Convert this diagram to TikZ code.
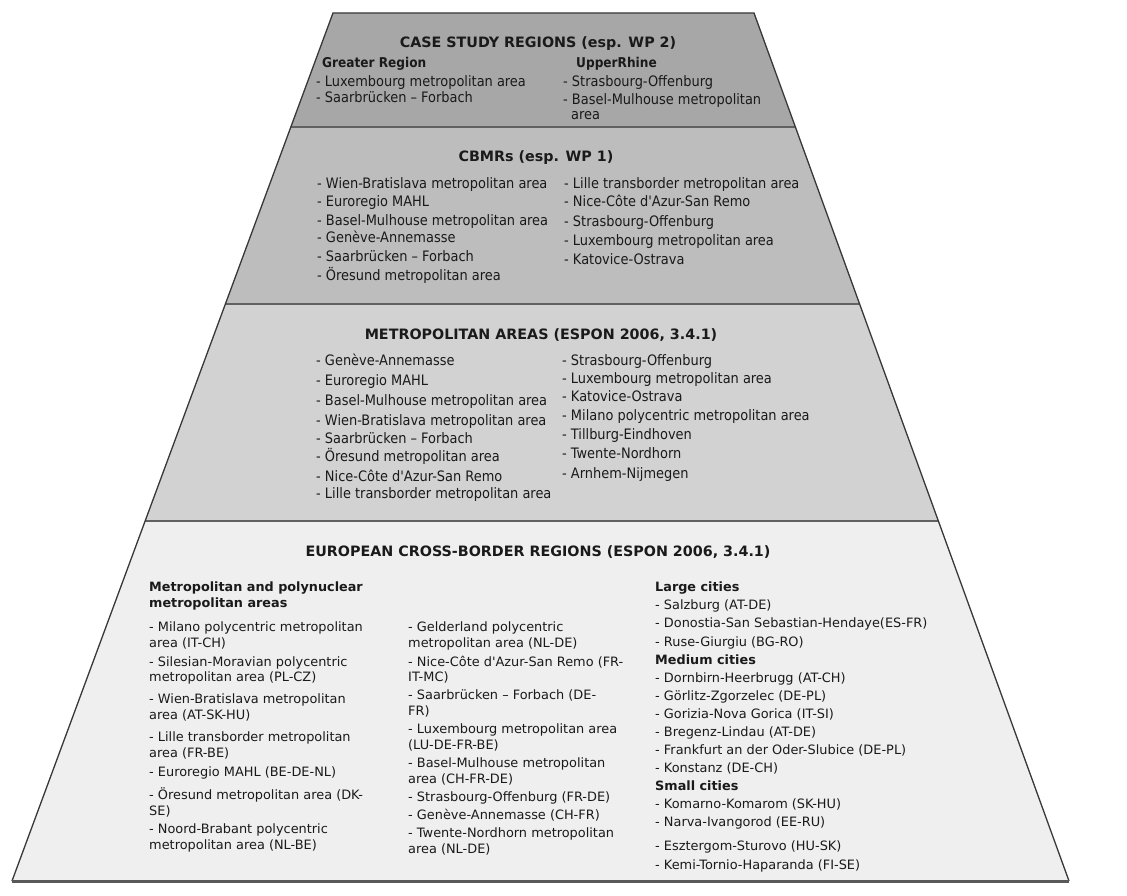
\documentclass[tikz,border=0pt]{standalone}
\usepackage{fontspec}
\setmainfont{DejaVu Sans}
\newfontfamily\condfont{DejaVu Sans Condensed}
\definecolor{bandA}{HTML}{A7A7A7}
\definecolor{bandB}{HTML}{BDBDBD}
\definecolor{bandC}{HTML}{D2D2D2}
\definecolor{bandD}{HTML}{EFEFEF}
\definecolor{ink}{HTML}{1A1A1A}
\newcommand\apos{\textquotesingle}
\begin{document}
\begin{tikzpicture}[x=1pt,y=-1pt,
  titlef/.style={anchor=base, inner sep=0pt, font=\bfseries\fontsize{14.3}{16}\selectfont, text=ink},
  upitem/.style={anchor=base west, inner sep=0pt, font=\condfont\fontsize{14.4}{16}\selectfont, text=ink},
  uphead/.style={anchor=base west, inner sep=0pt, font=\condfont\bfseries\fontsize{13.5}{16}\selectfont, text=ink},
  lowitem/.style={anchor=base west, inner sep=0pt, font=\fontsize{12.9}{16}\selectfont, text=ink},
  lowhead/.style={anchor=base west, inner sep=0pt, font=\bfseries\fontsize{12.8}{16}\selectfont, text=ink},
  sepline/.style={draw=black!62, line width=2.3pt},
  outline/.style={draw=black!78, line width=1.3pt, line join=miter},
  baseline/.style={draw=black!65, line width=3pt}
]
\useasboundingbox (0,0) rectangle (1127,896);
\fill[white] (0,0) rectangle (1127,896);
% bands
\fill[bandA] (333,13) -- (754,13) -- (795.4,127) -- (290.8,127) -- cycle;
\fill[bandB] (290.8,127) -- (795.4,127) -- (859.6,304) -- (225.4,304) -- cycle;
\fill[bandC] (225.4,304) -- (859.6,304) -- (938.4,521) -- (145.1,521) -- cycle;
\fill[bandD] (145.1,521) -- (938.4,521) -- (1069,881) -- (12,881) -- cycle;
\draw[sepline] (290.8,127) -- (795.4,127);
\draw[sepline] (225.4,304) -- (859.6,304);
\draw[sepline] (145.1,521) -- (938.4,521);
\draw[outline] (12,881) -- (333,13) -- (754,13) -- (1069,881);
\draw[baseline] (12,881) -- (1069,881);

% band 1
\node[titlef] (t1) at (538,48) {CASE STUDY REGIONS (esp. WP 2)};
\node[uphead] (h1a) at (322,67.5) {Greater Region};
\node[uphead] (h1b) at (576,67.5) {UpperRhine};
\node[upitem] (a1) at (316,87) {- Luxembourg metropolitan area};
\node[upitem] (a2) at (316,103) {- Saarbrücken – Forbach};
\node[upitem] (b1) at (563,87) {- Strasbourg-Offenburg};
\node[upitem] (b2) at (563,104.5) {- Basel-Mulhouse metropolitan};
\node[upitem] (b3) at (571,119.5) {area};

% band 2
\node[titlef] (t2) at (536,162) {CBMRs (esp. WP 1)};
\node[upitem] (c1) at (317,188.5) {- Wien-Bratislava metropolitan area};
\node[upitem] (c2) at (317,206.5) {- Euroregio MAHL};
\node[upitem] (c3) at (317,225.5) {- Basel-Mulhouse metropolitan area};
\node[upitem] (c4) at (317,242.5) {- Genève-Annemasse};
\node[upitem] (c5) at (317,261.5) {- Saarbrücken – Forbach};
\node[upitem] (c6) at (317,280.5) {- Öresund metropolitan area};
\node[upitem] (d1) at (564,188.5) {- Lille transborder metropolitan area};
\node[upitem] (d2) at (564,206.5) {- Nice-Côte d\apos Azur-San Remo};
\node[upitem] (d3) at (564,226.5) {- Strasbourg-Offenburg};
\node[upitem] (d4) at (564,245.5) {- Luxembourg metropolitan area};
\node[upitem] (d5) at (564,264.5) {- Katovice-Ostrava};

% band 3
\node[titlef] (t3) at (541,339) {METROPOLITAN AREAS (ESPON 2006, 3.4.1)};
\node[upitem] (e1) at (316,365.5) {- Genève-Annemasse};
\node[upitem] (e2) at (316,385.5) {- Euroregio MAHL};
\node[upitem] (e3) at (316,405.5) {- Basel-Mulhouse metropolitan area};
\node[upitem] (e4) at (316,425.5) {- Wien-Bratislava metropolitan area};
\node[upitem] (e5) at (316,443.5) {- Saarbrücken – Forbach};
\node[upitem] (e6) at (316,461.5) {- Öresund metropolitan area};
\node[upitem] (e7) at (316,481.5) {- Nice-Côte d\apos Azur-San Remo};
\node[upitem] (e8) at (316,498.5) {- Lille transborder metropolitan area};
\node[upitem] (f1) at (562,365.5) {- Strasbourg-Offenburg};
\node[upitem] (f2) at (562,383.5) {- Luxembourg metropolitan area};
\node[upitem] (f3) at (562,401.5) {- Katovice-Ostrava};
\node[upitem] (f4) at (562,420.5) {- Milano polycentric metropolitan area};
\node[upitem] (f5) at (562,439.5) {- Tillburg-Eindhoven};
\node[upitem] (f6) at (562,458.5) {- Twente-Nordhorn};
\node[upitem] (f7) at (562,478.5) {- Arnhem-Nijmegen};

% band 4
\node[titlef] (t4) at (538,556) {EUROPEAN CROSS-BORDER REGIONS (ESPON 2006, 3.4.1)};
\node[lowhead] (g0a) at (149,591.5) {Metropolitan and polynuclear};
\node[lowhead] (g0b) at (149,607.5) {metropolitan areas};
\node[lowitem] (g1) at (149,631.5) {- Milano polycentric metropolitan};
\node[lowitem] (g1b) at (149,647.5) {area (IT-CH)};
\node[lowitem] (g2) at (149,666.5) {- Silesian-Moravian polycentric};
\node[lowitem] (g2b) at (149,681.5) {metropolitan area (PL-CZ)};
\node[lowitem] (g3) at (149,703.5) {- Wien-Bratislava metropolitan};
\node[lowitem] (g3b) at (149,719.5) {area (AT-SK-HU)};
\node[lowitem] (g4) at (149,741.5) {- Lille transborder metropolitan};
\node[lowitem] (g4b) at (149,757.5) {area (FR-BE)};
\node[lowitem] (g5) at (149,776.5) {- Euroregio MAHL (BE-DE-NL)};
\node[lowitem] (g6) at (149,799.5) {- Öresund metropolitan area (DK-};
\node[lowitem] (g6b) at (149,815.5) {SE)};
\node[lowitem] (g7) at (149,833.5) {- Noord-Brabant polycentric};
\node[lowitem] (g7b) at (149,849.5) {metropolitan area (NL-BE)};

\node[lowitem] (m1) at (408,631.5) {- Gelderland polycentric};
\node[lowitem] (m1b) at (408,647.5) {metropolitan area (NL-DE)};
\node[lowitem] (m2) at (408,666.5) {- Nice-Côte d\apos Azur-San Remo (FR-};
\node[lowitem] (m2b) at (408,681.5) {IT-MC)};
\node[lowitem] (m3) at (408,699.5) {- Saarbrücken – Forbach (DE-};
\node[lowitem] (m3b) at (408,715.5) {FR)};
\node[lowitem] (m4) at (408,733.5) {- Luxembourg metropolitan area};
\node[lowitem] (m4b) at (408,749.5) {(LU-DE-FR-BE)};
\node[lowitem] (m5) at (408,767.5) {- Basel-Mulhouse metropolitan};
\node[lowitem] (m5b) at (408,783.5) {area (CH-FR-DE)};
\node[lowitem] (m6) at (408,801.5) {- Strasbourg-Offenburg (FR-DE)};
\node[lowitem] (m7) at (408,819.5) {- Genève-Annemasse (CH-FR)};
\node[lowitem] (m8) at (408,837.5) {- Twente-Nordhorn metropolitan};
\node[lowitem] (m8b) at (408,853.5) {area (NL-DE)};

\node[lowhead] (r0) at (655,591.5) {Large cities};
\node[lowitem] (r1) at (655,609.5) {- Salzburg (AT-DE)};
\node[lowitem] (r2) at (655,627.5) {- Donostia-San Sebastian-Hendaye(ES-FR)};
\node[lowitem] (r3) at (655,646.5) {- Ruse-Giurgiu (BG-RO)};
\node[lowhead] (s0) at (655,664.5) {Medium cities};
\node[lowitem] (s1) at (655,682.5) {- Dornbirn-Heerbrugg (AT-CH)};
\node[lowitem] (s2) at (655,700.5) {- Görlitz-Zgorzelec (DE-PL)};
\node[lowitem] (s3) at (655,718.5) {- Gorizia-Nova Gorica (IT-SI)};
\node[lowitem] (s4) at (655,736.5) {- Bregenz-Lindau (AT-DE)};
\node[lowitem] (s5) at (655,754.5) {- Frankfurt an der Oder-Slubice (DE-PL)};
\node[lowitem] (s6) at (655,772.5) {- Konstanz (DE-CH)};
\node[lowhead] (u0) at (655,790.5) {Small cities};
\node[lowitem] (u1) at (655,808.5) {- Komarno-Komarom (SK-HU)};
\node[lowitem] (u2) at (655,826.5) {- Narva-Ivangorod (EE-RU)};
\node[lowitem] (u3) at (655,850.5) {- Esztergom-Sturovo (HU-SK)};
\node[lowitem] (u4) at (655,869.5) {- Kemi-Tornio-Haparanda (FI-SE)};
\end{tikzpicture}
\end{document}
